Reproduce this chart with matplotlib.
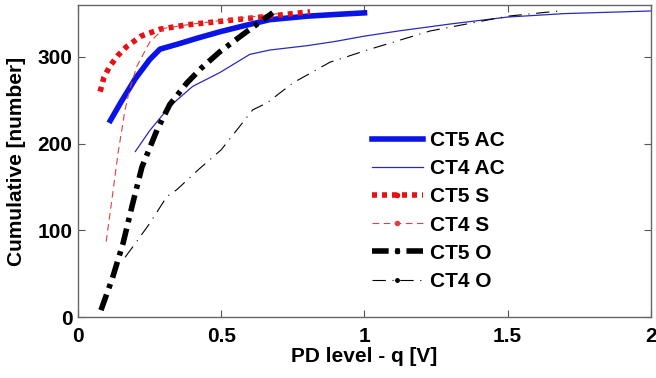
import numpy as np
import matplotlib
matplotlib.use("Agg")
import matplotlib.pyplot as plt
from matplotlib.lines import Line2D
from matplotlib.ticker import FuncFormatter

plt.rcParams["font.family"] = ["Liberation Sans", "DejaVu Sans"]
plt.rcParams["font.weight"] = "bold"

# PD level q [V] vs cumulative count for each test object
ct5_ac_q = [0.108, 0.15, 0.2, 0.25, 0.286, 0.35, 0.42, 0.495, 0.58, 0.67, 0.8, 0.9, 1.01]
ct5_ac_n = [224, 248, 275, 297, 309, 315, 322, 329, 336, 343, 347, 349, 351]

ct4_ac_q = [0.2, 0.25, 0.32, 0.4, 0.495, 0.6, 0.67, 0.8, 0.9, 1.0, 1.12, 1.3, 1.5, 1.7, 2.0]
ct4_ac_n = [191, 215, 243, 266, 282, 303, 308, 313, 318, 324, 330, 338, 346, 350, 353]

ct5_s_q = [0.077, 0.09, 0.11, 0.14, 0.17, 0.22, 0.286, 0.38, 0.495, 0.58, 0.67, 0.75, 0.81]
ct5_s_n = [260, 276, 289, 302, 312, 324, 332, 337, 341, 344, 347, 350, 352]

ct4_s_q = [0.098, 0.12, 0.14, 0.164, 0.18, 0.205, 0.25, 0.3, 0.4, 0.5, 0.6, 0.7]
ct4_s_n = [87, 140, 190, 239, 262, 289, 317, 333, 338, 342, 346, 350]

ct5_o_q = [0.08, 0.12, 0.157, 0.19, 0.223, 0.276, 0.32, 0.38, 0.43, 0.495, 0.58, 0.68]
ct5_o_n = [8, 45, 85, 130, 173, 216, 245, 270, 287, 306, 327, 351]

ct4_o_q = [0.164, 0.2, 0.25, 0.31, 0.345, 0.42, 0.5, 0.61, 0.66, 0.75, 0.88, 1.02, 1.23, 1.5, 1.68]
ct4_o_n = [69, 85, 108, 139, 147, 170, 193, 239, 247, 270, 294, 309, 330, 347, 353]

fig = plt.figure(figsize=(6.56, 3.78), dpi=100)
ax = fig.add_axes([0.119, 0.161, 0.873, 0.826])

ax.plot(ct5_ac_q, ct5_ac_n, color="#0a14e6", lw=4.0, solid_capstyle="butt")
ax.plot(ct4_ac_q, ct4_ac_n, color="#2a2ab8", lw=0.9)
ax.plot(ct5_s_q, ct5_s_n, color="#e81010", lw=4.0, dashes=(0.9, 0.9))
ax.plot(ct4_s_q, ct4_s_n, color="#e04040", lw=0.8, dashes=(6, 4))
ax.plot(ct5_o_q, ct5_o_n, color="black", lw=4.0, dashes=(3.0, 1.2, 0.8, 1.2))
ax.plot(ct4_o_q, ct4_o_n, color="black", lw=0.8, dashes=(12, 6, 1, 6))

ax.set_xlim(0, 2)
ax.set_ylim(0, 360)
ax.set_xticks([0, 0.5, 1, 1.5, 2])
ax.set_yticks([0, 100, 200, 300])
ax.xaxis.set_major_formatter(FuncFormatter(lambda v, p: f"{v:g}"))
ax.tick_params(direction="in", top=True, right=True, labelsize=15, length=5,
               color="#555555")
ax.tick_params(axis="x", pad=7)
ax.tick_params(axis="y", pad=4)
for lab in ax.get_xticklabels() + ax.get_yticklabels():
    lab.set_fontweight("bold")
for sp in ax.spines.values():
    sp.set_color("#666666")
    sp.set_linewidth(1.0)

ax.set_xlabel("PD level - q [V]", fontsize=15, fontweight="bold", labelpad=1)
ax.set_ylabel("Cumulative [number]", fontsize=15, fontweight="bold", labelpad=8)

handles = [
    Line2D([], [], color="#0a14e6", lw=4.0),
    Line2D([], [], color="#2a2ab8", lw=0.9),
    Line2D([], [], color="#e81010", lw=4.0, dashes=(0.9, 0.9), marker=".", markersize=6),
    Line2D([], [], color="#e04040", lw=0.8, dashes=(6, 4), marker=".", markersize=6),
    Line2D([], [], color="black", lw=4.0, dashes=(3.0, 1.2, 0.8, 1.2), marker=".", markersize=6),
    Line2D([], [], color="black", lw=0.8, dashes=(12, 6, 1, 6), marker=".", markersize=5),
]
labels = ["CT5 AC", "CT4 AC", "CT5 S", "CT4 S", "CT5 O", "CT4 O"]
leg = ax.legend(handles, labels, loc="upper left", bbox_to_anchor=(0.513, 0.596),
                frameon=False, fontsize=15, handlelength=2.45, handletextpad=0.35,
                labelspacing=0.44, borderaxespad=0, borderpad=0)
for t in leg.get_texts():
    t.set_fontweight("bold")

fig.savefig("out.png", dpi=100)
